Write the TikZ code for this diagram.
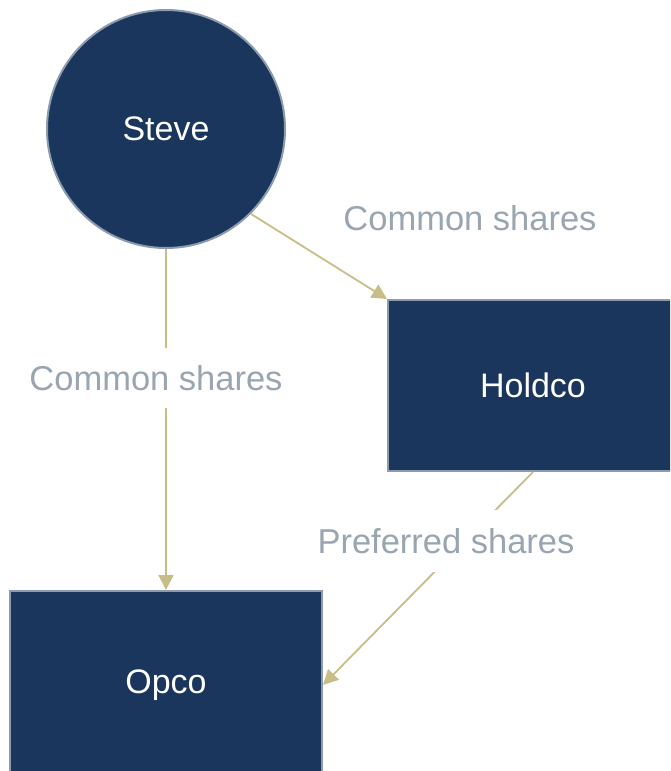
\documentclass[tikz,border=0pt]{standalone}
\usepackage{fontspec}
\setmainfont{Liberation Sans}
\usetikzlibrary{arrows.meta}
\definecolor{navy}{HTML}{1B365D}
\definecolor{edgegrey}{HTML}{8C9BAE}
\definecolor{tanline}{HTML}{C9BD87}
\definecolor{lblgrey}{HTML}{99A5B1}
\begin{document}
\begin{tikzpicture}[x=1pt,y=-1pt,
  entity/.style={fill=navy, draw=edgegrey, line width=2pt, text=white,
    font=\fontsize{34}{40}\selectfont, inner sep=0pt},
  flow/.style={draw=tanline, line width=1.8pt, -{Triangle[length=15pt,width=15pt]}},
  lab/.style={text=lblgrey, font=\fontsize{34.5}{40}\selectfont}]
\useasboundingbox (0,0) rectangle (670,771);
\clip (0,0) rectangle (670,771);
\node[entity, circle, minimum size=238pt] (steve) at (166,129) {Steve};
\node[entity, rectangle, minimum width=290pt, minimum height=171pt] (holdco) at (533,385.5) {Holdco};
\node[entity, rectangle, minimum width=312pt, minimum height=188pt] (opco) at (166,685) {Opco};
\draw[flow] (steve.-45) -- (holdco.north west);
\draw[flow] (steve.south) -- (opco.north);
\draw[flow] (holdco.south) -- (opco.east);
\node[lab] (lab1) at (470,218) {Common shares};
\node[lab, fill=white, inner xsep=2pt, inner ysep=17pt] (lab2) at (156,378) {Common shares};
\node[lab, fill=white, inner xsep=2pt, inner ysep=18pt] (lab3) at (446,541) {Preferred shares};
\end{tikzpicture}
\end{document}
